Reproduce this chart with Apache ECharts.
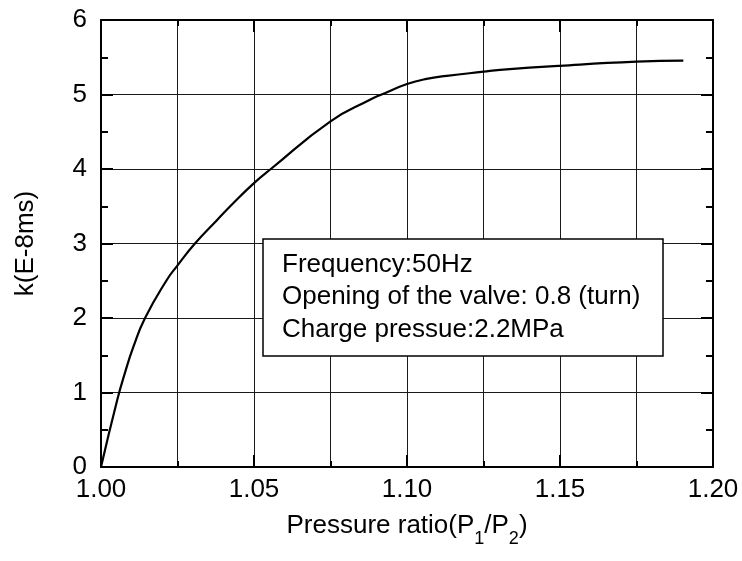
<!DOCTYPE html>
<html>
<head>
<meta charset="utf-8">
<script src="https://cdn.jsdelivr.net/npm/echarts@6/dist/echarts.min.js"></script>
<style>
html,body{margin:0;padding:0;background:#fff;}
#chart{width:742px;height:561px;}
</style>
</head>
<body>
<div id="chart"></div>
<script>
const pressureRatio = [1.000, 1.0053, 1.0078, 1.0106, 1.0144, 1.0215, 1.0249, 1.0307, 1.0378, 1.0432, 1.050, 1.0555, 1.075, 1.0879, 1.0917, 1.100, 1.1064, 1.113, 1.125, 1.1304, 1.150, 1.175, 1.1903];
const kValues = [0, 0.90, 1.26, 1.615, 2.0, 2.51, 2.70, 3.0, 3.31, 3.54, 3.81, 4.0, 4.64, 4.93, 5.0, 5.14, 5.21, 5.25, 5.306, 5.33, 5.385, 5.44, 5.454];
const xTicks = {min: 1.00, max: 1.20, step: 0.05};
const yTicks = {min: 0, max: 6, step: 1};
const noteLines = ['Frequency:50Hz', 'Opening of the valve: 0.8 (turn)', 'Charge pressue:2.2MPa'];

const FONT = 'Liberation Sans, Arial, sans-serif';
const chart = echarts.init(document.getElementById('chart'));
const axisLine = {show: true, onZero: false, lineStyle: {color: '#000', width: 2}};
const grid = {left: 101, right: 29, top: 20, bottom: 94};

const baseX = {
  type: 'value', min: xTicks.min, max: xTicks.max, interval: xTicks.step,
  axisLine: axisLine,
  axisTick: {show: true, inside: true, length: 12, lineStyle: {color: '#000', width: 2}},
  minorTick: {show: true, splitNumber: 2, length: 6, lineStyle: {color: '#000', width: 2}},
};
const baseY = {
  type: 'value', min: yTicks.min, max: yTicks.max, interval: yTicks.step,
  axisLine: axisLine,
  axisTick: {show: true, inside: true, length: 12, lineStyle: {color: '#000', width: 2}},
  minorTick: {show: true, splitNumber: 2, length: 7, lineStyle: {color: '#000', width: 2}},
};

const boxX = 263, boxY = 239;
chart.setOption({
  animation: false,
  backgroundColor: '#fff',
  grid: grid,
  xAxis: [
    Object.assign({}, baseX, {
      position: 'bottom',
      splitLine: {show: true, lineStyle: {color: '#1a1a1a', width: 1}},
      minorSplitLine: {show: true, lineStyle: {color: '#1a1a1a', width: 1}},
      axisLabel: {show: true, formatter: v => v.toFixed(2), fontSize: 26, color: '#000', fontFamily: FONT, margin: 10, showMinLabel: true, showMaxLabel: true},
      name: 'Pressure ratio(P{s|1}/P{s|2})',
      nameLocation: 'middle',
      nameGap: 37,
      nameTextStyle: {fontSize: 26, color: '#000', fontFamily: FONT,
        rich: {s: {fontSize: 18, color: '#000', fontFamily: FONT, padding: [26, 0, 0, 0]}}}
    }),
    Object.assign({}, baseX, {
      position: 'top',
      splitLine: {show: false},
      axisLabel: {show: false}
    })
  ],
  yAxis: [
    Object.assign({}, baseY, {
      position: 'left',
      splitLine: {show: true, lineStyle: {color: '#1a1a1a', width: 1}},
      axisLabel: {show: true, fontSize: 26, color: '#000', fontFamily: FONT, margin: 14, showMinLabel: true, showMaxLabel: true},
      name: 'k(E-8ms)',
      nameLocation: 'middle',
      nameGap: 62,
      nameTextStyle: {fontSize: 26, color: '#000', fontFamily: FONT}
    }),
    Object.assign({}, baseY, {
      position: 'right',
      splitLine: {show: false},
      axisLabel: {show: false}
    })
  ],
  series: [{
    type: 'line',
    data: pressureRatio.map((x, i) => [x, kValues[i]]),
    showSymbol: false,
    smooth: 0.5,
    lineStyle: {color: '#000', width: 2.2},
    z: 5
  }],
  graphic: [
    {type: 'rect', z: 100, shape: {x: boxX, y: boxY, width: 400, height: 117},
     style: {fill: '#fff', stroke: '#000', lineWidth: 1.5}},
    ...noteLines.map((t, i) => ({
      type: 'text', z: 101, x: boxX + 19, y: boxY + 25.5 + i * 32.5,
      style: {text: t, fontSize: 26, fill: '#000', fontFamily: FONT, verticalAlign: 'middle', align: 'left'}
    }))
  ]
});
</script>
</body>
</html>
